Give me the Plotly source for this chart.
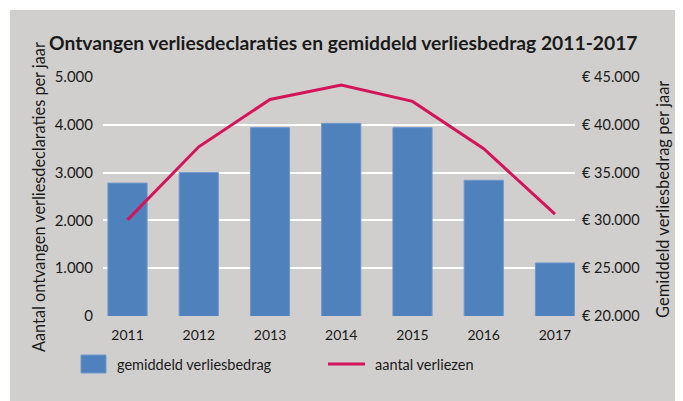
import plotly.graph_objects as go

years = ["2011", "2012", "2013", "2014", "2015", "2016", "2017"]
gemiddeld_verliesbedrag = [33900, 35000, 39700, 40150, 39700, 34200, 25550]
aantal_verliezen = [2010, 3540, 4530, 4830, 4490, 3500, 2130]

left_ticks = [0, 1000, 2000, 3000, 4000, 5000]
left_labels = ["0", "1.000", "2.000", "3.000", "4.000", "5.000"]
right_ticks = [20000, 25000, 30000, 35000, 40000, 45000]
right_labels = ["€ 20.000", "€ 25.000", "€ 30.000", "€ 35.000", "€ 40.000", "€ 45.000"]

# page body has an 8px margin; work in screen coords and subtract it
OFF = 8
SW, SH = 683, 401
W, H = SW - OFF, SH - OFF
# plot area in screen coords
PL, PR, PT, PB = 103, 575, 77, 316
L, R, T, B = PL - OFF, W - (PR - OFF), PT - OFF, H - (PB - OFF)
PW, PH = PR - PL, PB - PT

def px(x):
    return (x - PL) / PW

def py(y):
    return (PB - y) / PH

FONT = "Lato"
TXT = "#1a1a1a"
BAR = "#4f81bd"
LINE = "#d4145a"
BG = "#d1cfcd"

fig = go.Figure()
fig.add_trace(go.Bar(
    x=years, y=gemiddeld_verliesbedrag, yaxis="y", name="gemiddeld verliesbedrag",
    marker=dict(color=BAR, line=dict(color="#7097cc", width=1)), width=0.55,
    showlegend=False,
))
fig.add_trace(go.Scatter(
    x=years, y=aantal_verliezen, yaxis="y2", mode="lines", name="aantal verliezen",
    line=dict(color=LINE, width=3), showlegend=False,
))

fig.update_layout(
    width=W, height=H,
    margin=dict(l=L, r=R, t=T, b=B, autoexpand=False),
    paper_bgcolor="white", plot_bgcolor="rgba(0,0,0,0)",
    separators=",.",
    font=dict(family=FONT, size=14, color=TXT),
    xaxis=dict(range=[-0.344, 6.281], showgrid=False, showline=False, zeroline=False,
               ticks="", tickfont=dict(size=14, color=TXT), type="category",
               ticklabelstandoff=9),
    yaxis=dict(side="right", range=[20000, 45000], tickvals=right_ticks, ticktext=right_labels,
               showgrid=True, gridcolor="white",
               gridwidth=2, zeroline=False, ticks="", tickfont=dict(size=14.5, color=TXT),
               ticklabelstandoff=6),
    yaxis2=dict(side="left", overlaying="y", range=[0, 5000], tickvals=left_ticks,
                ticktext=left_labels, showgrid=False, zeroline=False, ticks="",
                tickfont=dict(size=15, color=TXT), ticklabelstandoff=9),
    showlegend=False,
)

shapes = [
    dict(type="rect", xref="paper", yref="paper", x0=px(10), x1=px(700), y0=py(420), y1=py(10),
         fillcolor=BG, line=dict(width=0), layer="below"),
    dict(type="rect", xref="paper", yref="paper", x0=px(81), x1=px(106), y0=py(373), y1=py(355),
         fillcolor=BAR, line=dict(color="#7097cc", width=1)),
    dict(type="line", xref="paper", yref="paper", x0=px(328), x1=px(365), y0=py(364), y1=py(364),
         line=dict(color=LINE, width=3)),
]
fig.update_layout(shapes=shapes)

ann = [
    dict(text="<b>Ontvangen verliesdeclaraties en gemiddeld verliesbedrag 2011-2017</b>",
         x=px(47), y=py(42), xanchor="left", yanchor="middle", font=dict(size=19.3, color=TXT)),
    dict(text="Aantal ontvangen verliesdeclaraties per jaar", x=px(38), y=py(197),
         textangle=-90, xanchor="center", yanchor="middle", font=dict(size=16.3, color=TXT)),
    dict(text="Gemiddeld verliesbedrag per jaar", x=px(663), y=py(200),
         textangle=-90, xanchor="center", yanchor="middle", font=dict(size=16.5, color=TXT)),
    dict(text="gemiddeld verliesbedrag", x=px(115), y=py(364), xanchor="left",
         yanchor="middle", font=dict(size=14.5, color=TXT)),
    dict(text="aantal verliezen", x=px(373), y=py(364), xanchor="left",
         yanchor="middle", font=dict(size=14.5, color=TXT)),
]
for a in ann:
    a.update(xref="paper", yref="paper", showarrow=False)
fig.update_layout(annotations=ann)

fig.write_html("out.html")
